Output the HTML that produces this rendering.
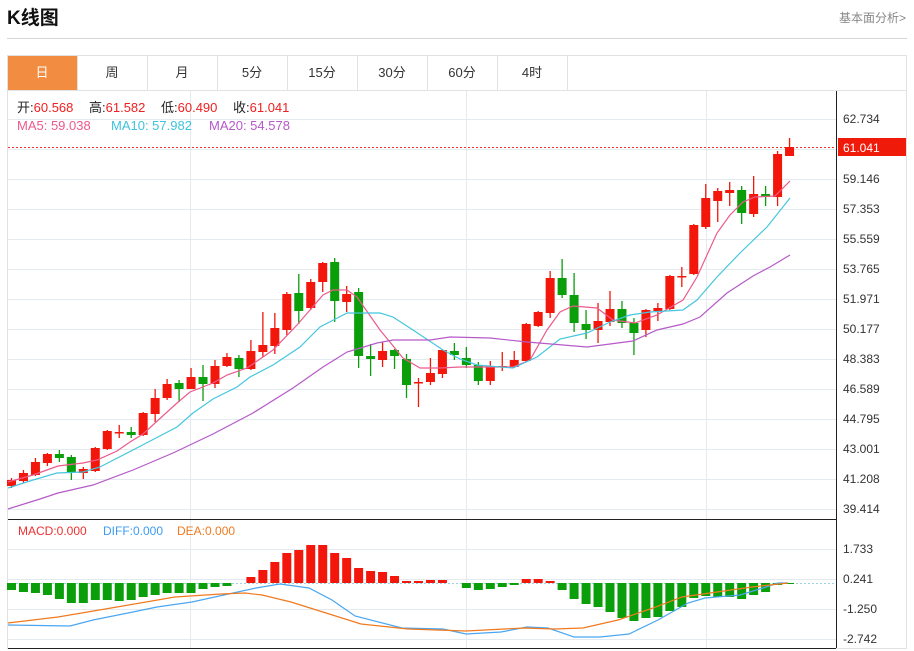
<!DOCTYPE html>
<html><head><meta charset="utf-8"><style>
body{margin:0;background:#fff;width:914px;height:651px;overflow:hidden;font-family:"Liberation Sans","Noto Sans CJK SC",sans-serif;}
svg{position:absolute;left:0;top:0}
</style></head><body>
<svg id="s" width="914" height="651" xmlns="http://www.w3.org/2000/svg" font-family="Liberation Sans, Noto Sans CJK SC, sans-serif">
<text x="7" y="24" font-size="19" font-weight="bold" fill="#111">K线图</text>
<text x="906" y="22" font-size="12" fill="#888" text-anchor="end">基本面分析&gt;</text>
<line x1="7" y1="38.5" x2="907" y2="38.5" stroke="#d6d6d6"/>
<rect x="7.5" y="55.5" width="899" height="593" fill="none" stroke="#e2e2e2"/>
<rect x="8" y="56" width="69" height="34" fill="#f28c40"/>
<g stroke="#e2e2e2"><line x1="7" y1="90.5" x2="907" y2="90.5"/>
<line x1="77.5" y1="55" x2="77.5" y2="90"/><line x1="147.5" y1="55" x2="147.5" y2="90"/><line x1="217.5" y1="55" x2="217.5" y2="90"/><line x1="287.5" y1="55" x2="287.5" y2="90"/><line x1="357.5" y1="55" x2="357.5" y2="90"/><line x1="427.5" y1="55" x2="427.5" y2="90"/><line x1="497.5" y1="55" x2="497.5" y2="90"/><line x1="567.5" y1="55" x2="567.5" y2="90"/></g>
<g font-size="13" text-anchor="middle" fill="#333"><text x="42" y="77" fill="#fff">日</text><text x="112" y="77">周</text><text x="182" y="77">月</text><text x="252" y="77">5分</text><text x="322" y="77">15分</text><text x="392" y="77">30分</text><text x="462" y="77">60分</text><text x="532" y="77">4时</text></g>
<g id="grid" stroke="#e3eaf0" stroke-width="1"></g>
<line x1="8" y1="519.5" x2="836" y2="519.5" stroke="#222"/>
<line x1="8" y1="648.5" x2="836" y2="648.5" stroke="#222"/>
<line x1="836.5" y1="91" x2="836.5" y2="648" stroke="#222"/>
<line x1="8" y1="147.5" x2="836" y2="147.5" stroke="#f03030" stroke-dasharray="2,2"/>
<line x1="8" y1="583.5" x2="836" y2="583.5" stroke="#9cd3e6" stroke-dasharray="2,2"/>
<g id="c"></g>
<g font-size="12" fill="#333">
<text x="843" y="123">62.734</text><text x="843" y="183">59.146</text><text x="843" y="213">57.353</text><text x="843" y="243">55.559</text><text x="843" y="273">53.765</text><text x="843" y="303">51.971</text><text x="843" y="333">50.177</text><text x="843" y="363">48.383</text><text x="843" y="393">46.589</text><text x="843" y="423">44.795</text><text x="843" y="453">43.001</text><text x="843" y="483">41.208</text><text x="843" y="513">39.414</text>
<text x="843" y="553">1.733</text><text x="843" y="583">0.241</text><text x="843" y="613">-1.250</text><text x="843" y="643">-2.742</text>
</g>
<rect x="838" y="138" width="68" height="18" fill="#f01a0a"/>
<text x="843" y="152" font-size="12" fill="#fff">61.041</text>
<g font-size="13"><text x="17" y="112"><tspan fill="#222">开:</tspan><tspan fill="#f02020">60.568</tspan></text>
<text x="89" y="112"><tspan fill="#222">高:</tspan><tspan fill="#f02020">61.582</tspan></text>
<text x="161" y="112"><tspan fill="#222">低:</tspan><tspan fill="#f02020">60.490</tspan></text>
<text x="233" y="112"><tspan fill="#222">收:</tspan><tspan fill="#f02020">61.041</tspan></text>
<text x="17" y="130" fill="#ec5a8c">MA5: 59.038</text><text x="111" y="130" fill="#3fc3dc">MA10: 57.982</text><text x="209" y="130" fill="#b65ac8">MA20: 54.578</text></g>
<g font-size="12"><text x="18" y="535" fill="#f03030">MACD:0.000</text><text x="103" y="535" fill="#3d9cf0">DIFF:0.000</text><text x="177" y="535" fill="#f07a20">DEA:0.000</text></g>
</svg>
<script>
var NS="http://www.w3.org/2000/svg",g=document.getElementById('grid'),c=document.getElementById('c');
function el(p,t,a){var e=document.createElementNS(NS,t);for(var k in a)e.setAttribute(k,a[k]);p.appendChild(e);return e;}
for(var y=119;y<=509;y+=30)el(g,'line',{x1:8,x2:836,y1:y+.5,y2:y+.5});
[549,579,609,639].forEach(function(y){el(g,'line',{x1:8,x2:836,y1:y+.5,y2:y+.5});});
[190,466,706].forEach(function(x){el(g,'line',{x1:x+.5,x2:x+.5,y1:91,y2:648});});
var K=[[480,486,478,488,1],[473,481,470,483,1],[462,475,458,476,1],[454,463,453,466,1],[454,458,450,462,0],[457,472,455,480,0],[469,473,467,479,1],[448,471,447,472,1],[431,449,430,450,1],[432,433,425,438,1],[432,435,427,438,0],[413,435,412,436,1],[398,414,389,422,1],[384,398,379,400,1],[383,389,380,402,0],[377,389,368,389,1],[377,384,365,401,0],[366,384,360,388,1],[357,366,353,367,1],[358,369,355,377,0],[351,369,340,370,1],[345,352,312,357,1],[328,346,313,354,1],[294,330,292,335,1],[293,311,274,324,0],[282,308,279,310,1],[263,282,262,292,1],[262,301,258,322,0],[294,302,286,312,1],[292,356,288,368,0],[356,359,344,376,0],[351,360,342,367,1],[350,356,349,369,0],[359,385,354,398,0],[382,383,378,407,1],[373,382,358,385,1],[350,374,350,378,1],[351,355,343,360,0],[358,365,347,368,0],[365,381,362,385,0],[366,381,361,385,1],[366,367,352,371,1],[360,367,351,368,1],[324,361,323,362,1],[312,326,311,327,1],[278,313,271,318,1],[278,295,259,298,0],[295,323,273,332,0],[324,330,310,339,0],[321,330,303,343,1],[309,322,291,326,1],[309,323,301,328,0],[323,333,318,355,0],[310,330,309,337,1],[308,311,303,321,1],[276,309,275,310,1],[276,277,267,287,1],[225,274,224,275,1],[198,227,184,229,1],[191,201,188,222,1],[190,193,182,206,1],[190,213,186,224,0],[194,214,176,217,1],[194,197,186,206,0],[154,197,151,206,1],[147,156,138,156,1]];
var H=[590,592,593,595,599,603,603,600,600,601,600,597,595,593,593,593,589,587,586,583,577,570,562,553,550,545,545,553,558,568,571,572,576,581,581,580,580,583,588,590,589,587,585,579,579,581,590,599,604,607,612,618,621,618,617,611,607,598,596,597,597,599,595,592,585,584];
var R='#f2170a',G='#0a9e0a';
K.forEach(function(k,i){var x=11.5+i*11.97,col=k[4]?R:G;
el(c,'line',{x1:x,x2:x,y1:k[2],y2:k[3],stroke:col,'stroke-width':1.3});
el(c,'rect',{x:x-4.5,y:k[0],width:9,height:Math.max(1.5,k[1]-k[0]),fill:col});
var h=H[i],z=583;if(Math.abs(h-z)>0.5)el(c,'rect',{x:x-4.5,y:Math.min(h,z),width:9,height:Math.abs(h-z),fill:h<z?R:G});});
function pl(pts,col){el(c,'polyline',{points:pts,fill:'none',stroke:col,'stroke-width':1.2});}
pl("8,482 33,475 58,466 83,463 97,460 117,451 130,442 143,434 177,403 190,392 213,383 227,375 247,368 273,350 297,325 310,310 323,295 333,290 347,290 357,297 380,330 403,358 420,368 440,368 460,367 513,367 530,360 547,330 560,312 573,306 597,308 613,320 635,323 657,315 683,300 697,277 717,233 730,215 743,202 755,197 775,196 790,181","#ec5a8c");
pl("8,488 33,480 57,473 83,472 100,467 133,450 177,427 193,413 213,399 237,387 250,377 273,365 300,347 320,327 347,313 380,313 393,317 413,330 443,350 460,359 477,365 513,368 537,357 560,339 587,333 610,322 630,315 650,312 683,310 697,300 717,277 740,253 767,227 790,198","#45c6de");
pl("8,509 40,499 58,493 93,485 133,470 173,453 213,434 253,413 293,388 323,367 347,352 377,343 393,340 430,340 450,337 490,338 527,342 587,347 633,341 657,330 683,324 700,317 727,293 753,276 770,267 790,255","#b65ac8");
pl("8,625 70,626 93,620 128,613 157,607 192,602 233,593 256,588 280,584 309,588 332,600 355,616 402,628 443,629 466,634 501,632 527,627 548,628 574,637 600,637 629,634 658,620 688,603 705,598 740,595 763,588 778,583 788,583","#4aa6f0");
pl("8,623 58,617 117,607 175,597 221,594 245,593 262,595 291,602 326,613 361,624 408,629 466,631 524,628 554,629 583,628 618,620 653,608 682,597 717,592 752,587 788,583","#f07a20");
</script>
</body></html>
